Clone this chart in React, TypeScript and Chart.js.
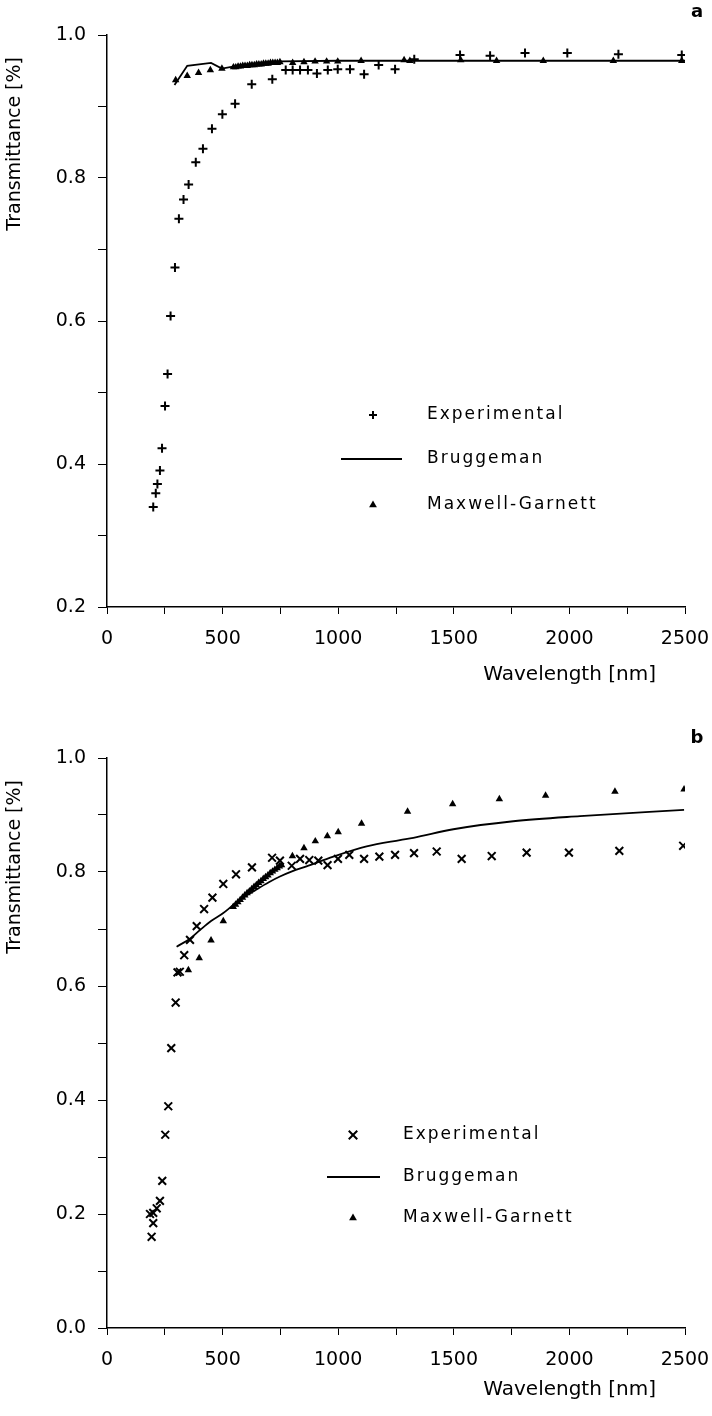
import React, { useEffect, useRef } from 'react';
import Chart from 'chart.js/auto';

// ---------- Panel a data ----------
const aExpX = [200, 211, 218, 229, 238, 251, 262, 275, 294, 311, 331, 353, 384, 415, 454, 499, 554, 626, 715, 773, 803, 835, 869, 908, 955, 998, 1051, 1112, 1175, 1246, 1329, 1527, 1657, 1808, 1991, 2212, 2486];
const aExpY = [0.340, 0.359, 0.372, 0.391, 0.422, 0.481, 0.526, 0.607, 0.675, 0.743, 0.770, 0.791, 0.822, 0.841, 0.869, 0.889, 0.904, 0.931, 0.938, 0.951, 0.951, 0.951, 0.951, 0.946, 0.951, 0.952, 0.952, 0.945, 0.958, 0.952, 0.966, 0.972, 0.971, 0.975, 0.975, 0.973, 0.972];

const aBrugX = [292, 347, 450, 497, 550, 650, 750, 1000, 1500, 2000, 2500];
const aBrugY = [0.930, 0.957, 0.961, 0.953, 0.956, 0.960, 0.963, 0.964, 0.964, 0.964, 0.964];

const aMgX = [297, 347, 396, 447, 497, 547, 557, 567, 577, 587, 597, 607, 617, 627, 637, 647, 657, 667, 677, 687, 697, 707, 717, 727, 737, 748, 803, 852, 900, 950, 998, 1099, 1285, 1310, 1530, 1685, 1887, 2190, 2486];
const aMgY = [0.937, 0.943, 0.947, 0.951, 0.953, 0.955, 0.955, 0.956, 0.956, 0.957, 0.957, 0.957, 0.958, 0.958, 0.958, 0.959, 0.959, 0.959, 0.960, 0.960, 0.960, 0.961, 0.961, 0.961, 0.961, 0.962, 0.961, 0.962, 0.963, 0.963, 0.963, 0.964, 0.965, 0.964, 0.965, 0.964, 0.964, 0.964, 0.964];

// ---------- Panel b data ----------
const bExpX = [186, 193, 200, 200, 215, 229, 239, 252, 265, 278, 297, 305, 315, 334, 359, 388, 420, 456, 503, 558, 627, 714, 748, 799, 835, 875, 914, 954, 999, 1048, 1112, 1178, 1246, 1328, 1426, 1534, 1664, 1815, 1998, 2216, 2492];
const bExpY = [0.200, 0.160, 0.184, 0.202, 0.210, 0.223, 0.258, 0.339, 0.389, 0.491, 0.571, 0.624, 0.625, 0.654, 0.681, 0.705, 0.735, 0.755, 0.779, 0.796, 0.808, 0.825, 0.820, 0.811, 0.823, 0.821, 0.820, 0.812, 0.823, 0.830, 0.823, 0.827, 0.830, 0.833, 0.836, 0.823, 0.828, 0.834, 0.834, 0.837, 0.846];

const bBrugX = [301, 359, 402, 450, 503, 546, 600, 633, 700, 748, 800, 863, 979, 1123, 1267, 1325, 1498, 1757, 2046, 2496];
const bBrugY = [0.669, 0.683, 0.698, 0.714, 0.728, 0.742, 0.758, 0.766, 0.782, 0.792, 0.801, 0.810, 0.827, 0.845, 0.856, 0.860, 0.875, 0.889, 0.898, 0.909];

const bMgX = [352, 399, 450, 503, 546, 556, 566, 576, 586, 596, 606, 616, 626, 636, 646, 656, 666, 676, 686, 696, 706, 716, 726, 736, 746, 755, 802, 852, 901, 953, 1000, 1101, 1300, 1495, 1697, 1897, 2197, 2496];
const bMgY = [0.628, 0.649, 0.680, 0.714, 0.739, 0.743, 0.747, 0.751, 0.755, 0.759, 0.763, 0.766, 0.770, 0.774, 0.777, 0.781, 0.784, 0.788, 0.791, 0.794, 0.798, 0.801, 0.804, 0.807, 0.810, 0.812, 0.828, 0.842, 0.854, 0.863, 0.870, 0.885, 0.906, 0.919, 0.928, 0.934, 0.941, 0.945];

const SERIES_LABELS = ['Experimental', 'Bruggeman', 'Maxwell-Garnett'];
const X_TITLE = 'Wavelength [nm]';
const Y_TITLE = 'Transmittance [%]';

const FONT = '"DejaVu Sans", "Liberation Sans", Arial, sans-serif';

const pts = (xs: number[], ys: number[]) => xs.map((x, i) => ({ x, y: ys[i] }));

function drawMarker(ctx: CanvasRenderingContext2D, style: string, x: number, y: number, r: number) {
  ctx.beginPath();
  if (style === 'cross') {
    ctx.moveTo(x - r, y); ctx.lineTo(x + r, y);
    ctx.moveTo(x, y - r); ctx.lineTo(x, y + r);
    ctx.stroke();
  } else if (style === 'crossRot') {
    const d = r * 0.7071;
    ctx.moveTo(x - d, y - d); ctx.lineTo(x + d, y + d);
    ctx.moveTo(x - d, y + d); ctx.lineTo(x + d, y - d);
    ctx.stroke();
  } else if (style === 'triangle') {
    ctx.moveTo(x, y - r);
    ctx.lineTo(x + r * 0.866, y + r * 0.5);
    ctx.lineTo(x - r * 0.866, y + r * 0.5);
    ctx.closePath();
    ctx.fill();
  }
}

const decor = {
  id: 'decor',
  afterDraw(chart: any, _args: any, o: any) {
    const { ctx, chartArea } = chart;
    ctx.save();
    ctx.fillStyle = '#000';
    ctx.strokeStyle = '#000';
    // y title
    ctx.save();
    ctx.font = `19px ${FONT}`;
    ctx.translate(15, chartArea.top + o.yTitleOffset);
    ctx.rotate(-Math.PI / 2);
    ctx.textAlign = 'right';
    ctx.textBaseline = 'middle';
    ctx.fillText(Y_TITLE, 0, 0);
    ctx.restore();
    // x title
    ctx.font = `20px ${FONT}`;
    ctx.textAlign = 'right';
    ctx.textBaseline = 'middle';
    ctx.fillText(X_TITLE, chartArea.right - 29, chartArea.bottom + o.xTitleOffset);
    // panel letter
    ctx.font = `bold 18px ${FONT}`;
    ctx.textAlign = 'center';
    ctx.fillText(o.letter, 697, o.letterY);
    // legend
    ctx.font = `17px ${FONT}`;
    (ctx as any).letterSpacing = '2px';
    ctx.textAlign = 'left';
    const ds = chart.data.datasets;
    ds.forEach((d: any, i: number) => {
      const y = o.rows[i];
      ctx.lineWidth = 2;
      if (d.showLine) {
        ctx.beginPath();
        ctx.lineWidth = 1.8;
        ctx.moveTo(o.lineX1, y);
        ctx.lineTo(o.lineX2, y);
        ctx.stroke();
      } else {
        const r = d.pointStyle === 'triangle' ? 4.5 : d.pointStyle === 'crossRot' ? 6 : 4;
        drawMarker(ctx, d.pointStyle, o.markerX, y, r);
      }
      ctx.fillText(d.label, o.textX, y);
    });
    ctx.restore();
  },
};

function makeConfig(panel: 'a' | 'b'): any {
  const isA = panel === 'a';
  const expStyle = isA ? 'cross' : 'crossRot';
  const datasets = [
    {
      label: SERIES_LABELS[0],
      data: isA ? pts(aExpX, aExpY) : pts(bExpX, bExpY),
      pointStyle: expStyle,
      pointRadius: isA ? 4.5 : 5.5,
      pointBorderWidth: 2,
      borderColor: '#000',
      backgroundColor: '#000',
      showLine: false,
    },
    {
      label: SERIES_LABELS[1],
      data: isA ? pts(aBrugX, aBrugY) : pts(bBrugX, bBrugY),
      showLine: true,
      pointRadius: 0,
      borderColor: '#000',
      borderWidth: 1.8,
      tension: isA ? 0 : 0.3,
      cubicInterpolationMode: isA ? 'default' : 'monotone',
      fill: false,
    },
    {
      label: SERIES_LABELS[2],
      data: isA ? pts(aMgX, aMgY) : pts(bMgX, bMgY),
      pointStyle: 'triangle',
      pointRadius: 4.3,
      pointBorderWidth: 0,
      borderColor: '#000',
      backgroundColor: '#000',
      showLine: false,
    },
  ];
  return {
    type: 'scatter',
    data: { datasets },
    options: {
      responsive: false,
      animation: false,
      devicePixelRatio: 1,
      layout: { padding: { top: isA ? 35 : 50, right: 27, left: 0, bottom: 0 } },
      plugins: {
        legend: { display: false },
        tooltip: { enabled: false },
        decor: isA
          ? { letter: 'a', letterY: 12, yTitleOffset: 22, xTitleOffset: 68, markerX: 373, textX: 427, lineX1: 341, lineX2: 402, rows: [415, 459, 505] }
          : { letter: 'b', letterY: 30, yTitleOffset: 22, xTitleOffset: 62, markerX: 353, textX: 403, lineX1: 327, lineX2: 380, rows: [427, 469, 510] },
      },
      scales: {
        x: {
          type: 'linear',
          min: 0,
          max: 2500,
          afterFit: (s: any) => {
            s.height = isA ? 101 : 88;
            s.paddingLeft = 0;
            s.paddingRight = 0;
          },
          border: { color: '#000', width: 1.5 },
          grid: { drawOnChartArea: false, drawTicks: true, tickLength: 7, color: '#000', lineWidth: 1 },
          ticks: {
            stepSize: 250,
            autoSkip: false,
            maxRotation: 0,
            padding: 14,
            color: '#000',
            font: { family: FONT, size: 19 },
            callback: (v: any) => (Number(v) % 500 === 0 ? String(v) : ''),
          },
        },
        y: {
          type: 'linear',
          min: isA ? 0.2 : 0,
          max: 1,
          afterFit: (s: any) => {
            s.width = 107;
            s.paddingTop = 0;
            s.paddingBottom = 0;
          },
          border: { color: '#000', width: 1.5 },
          grid: { drawOnChartArea: false, drawTicks: true, tickLength: 9, color: '#000', lineWidth: 1 },
          ticks: {
            stepSize: 0.1,
            autoSkip: false,
            padding: 12,
            color: '#000',
            font: { family: FONT, size: 19 },
            callback: (v: any) => {
              const k = Math.round(Number(v) * 10);
              return k % 2 === 0 ? (k / 10).toFixed(1) : '';
            },
          },
        },
      },
    },
    plugins: [decor],
  };
}

function Panel({ panel, top }: { panel: 'a' | 'b'; top: number }) {
  const ref = useRef<HTMLCanvasElement | null>(null);
  useEffect(() => {
    if (!ref.current) return;
    const chart = new Chart(ref.current, makeConfig(panel));
    return () => chart.destroy();
  }, [panel]);
  return (
    <canvas
      ref={ref}
      width={712}
      height={708}
      style={{ position: 'absolute', left: 0, top, width: 712, height: 708 }}
    />
  );
}

export default function App() {
  return (
    <div style={{ position: 'absolute', left: 0, top: 0, width: 712, height: 1416, background: '#fff', overflow: 'hidden' }}>
      <Panel panel="a" top={0} />
      <Panel panel="b" top={708} />
    </div>
  );
}
